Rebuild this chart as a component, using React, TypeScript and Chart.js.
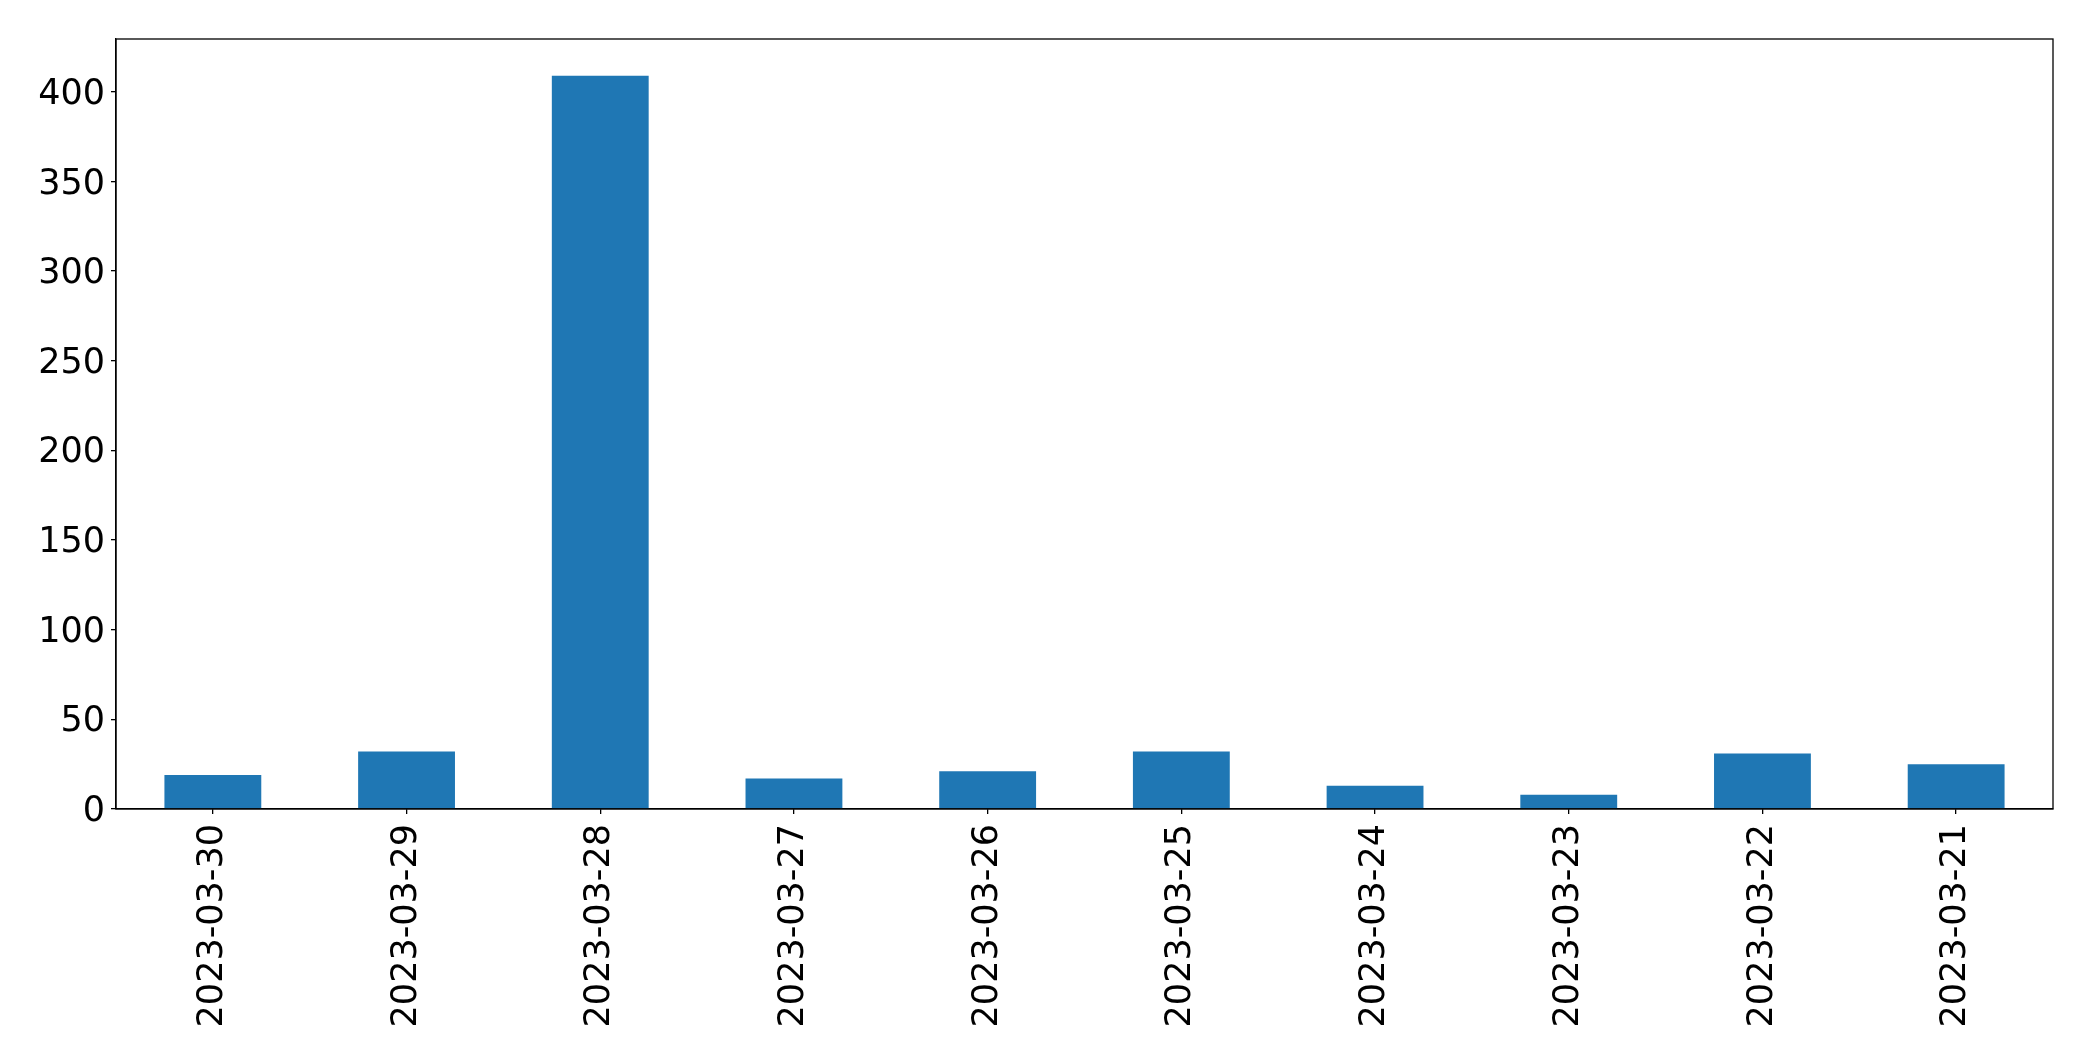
import React, { useEffect, useRef } from "react";
import { Chart, registerables } from "chart.js";

Chart.register(...registerables);

const categories = [
  "2023-03-30",
  "2023-03-29",
  "2023-03-28",
  "2023-03-27",
  "2023-03-26",
  "2023-03-25",
  "2023-03-24",
  "2023-03-23",
  "2023-03-22",
  "2023-03-21",
];
const values = [19, 32, 409, 17, 21, 32, 13, 8, 31, 25];
const yTicks = [0, 50, 100, 150, 200, 250, 300, 350, 400];

const FONT = "'DejaVu Sans', sans-serif";

const frame = {
  id: "frame",
  afterDraw(chart: any) {
    const { ctx, chartArea } = chart;
    ctx.save();
    ctx.strokeStyle = "#000";
    ctx.lineWidth = 1.3;
    ctx.strokeRect(chartArea.left, chartArea.top, chartArea.right - chartArea.left, chartArea.bottom - chartArea.top);
    ctx.restore();
  },
};

export default function App() {
  const ref = useRef<HTMLCanvasElement | null>(null);
  useEffect(() => {
    document.body.style.margin = "0";
    const canvas = ref.current!;
    const chart = new Chart(canvas, {
      type: "bar",
      data: {
        labels: categories,
        datasets: [
          {
            data: values,
            backgroundColor: "#1f77b4",
            barPercentage: 0.5,
            categoryPercentage: 1,
          },
        ],
      },
      options: {
        animation: false,
        responsive: false,
        maintainAspectRatio: false,
        layout: { padding: { left: 0, top: 39, right: 40, bottom: 0 } },
        plugins: { legend: { display: false }, tooltip: { enabled: false } },
        scales: {
          x: {
            grid: { display: true, offset: false, drawOnChartArea: false, drawTicks: true, tickLength: 5, color: "#000", lineWidth: 1.3 },
            border: { display: true, color: "#000", width: 1.3 },
            ticks: {
              maxRotation: 90,
              minRotation: 90,
              autoSkip: false,
              color: "#000",
              padding: 10,
              font: { family: FONT, size: 35 },
            },
            afterFit(scale: any) {
              scale.height = 1061 - 809;
            },
          },
          y: {
            min: 0,
            max: 429.45,
            grid: { display: true, drawOnChartArea: false, drawTicks: true, tickLength: 5, color: "#000", lineWidth: 1.3 },
            border: { display: true, color: "#000", width: 1.3 },
            ticks: {
              includeBounds: false,
              stepSize: 50,
              color: "#000",
              padding: 6,
              labelOffset: 3,
              font: { family: FONT, size: 35 },
            },
            afterBuildTicks(scale: any) {
              scale.ticks = yTicks.map((v) => ({ value: v }));
            },
            afterFit(scale: any) {
              scale.width = 116;
            },
          },
        },
      },
      plugins: [frame],
    });
    return () => chart.destroy();
  }, []);
  return <canvas ref={ref} width={2093} height={1061} style={{ display: "block", width: 2093, height: 1061 }} />;
}
